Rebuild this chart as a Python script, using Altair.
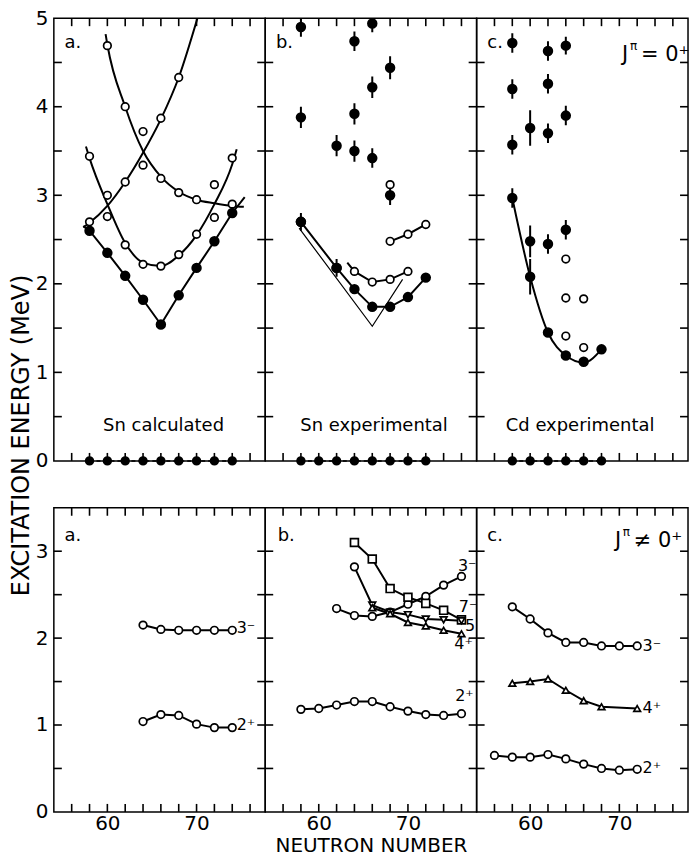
import altair as alt
import pandas as pd

FONT = "DejaVu Sans"
XDOM = [54, 77.7]
W = 212
H_TOP = 444
H_BOT = 305
TICK_PX = 8

# ---------------- data: top row (J^pi = 0+) ----------------
A_FILLED_N = [58, 60, 62, 64, 66, 68, 70, 72, 74]
A_FILLED_E = [2.60, 2.35, 2.09, 1.82, 1.54, 1.87, 2.18, 2.48, 2.80]
A_VLINE_N = [57.3, 58, 60, 62, 64, 66, 68, 70, 72, 74, 75.4]
A_VLINE_E = [2.65, 2.60, 2.35, 2.09, 1.82, 1.54, 1.87, 2.18, 2.48, 2.80, 2.98]
A_OPEN_N = [58, 58, 60, 60, 60, 62, 62, 62, 64, 64, 64, 66, 66, 66, 68, 68, 68, 70, 70, 72, 72, 74, 74]
A_OPEN_E = [3.44, 2.70, 4.69, 3.00, 2.76, 4.00, 3.15, 2.44, 3.72, 3.34, 2.22, 3.87, 3.19, 2.20,
            4.33, 3.03, 2.33, 2.95, 2.56, 3.12, 2.75, 3.42, 2.90]
A_CURVE1_N = [57.6, 58, 60, 62, 64, 66, 68, 70, 72, 74, 74.5]
A_CURVE1_E = [3.55, 3.42, 2.90, 2.46, 2.24, 2.20, 2.32, 2.55, 2.90, 3.35, 3.52]
A_CURVE2_N = [59.8, 60, 62, 64, 66, 68, 70, 72, 74, 75.3]
A_CURVE2_E = [4.82, 4.70, 4.00, 3.50, 3.21, 3.04, 2.95, 2.91, 2.88, 2.87]
A_CURVE3_N = [57.3, 58, 60, 62, 64, 66, 68, 70.1]
A_CURVE3_E = [2.64, 2.69, 2.88, 3.15, 3.48, 3.86, 4.33, 5.0]
A_ZERO_N = [58, 60, 62, 64, 66, 68, 70, 72, 74]

B_ERR_N = [58, 58, 58, 62, 62, 64, 64, 64, 66, 66, 66, 68, 68]
B_ERR_E = [4.90, 3.88, 2.70, 3.56, 2.18, 4.74, 3.92, 3.50, 4.94, 4.22, 3.42, 4.44, 3.00]
B_ERR_D = [0.11, 0.12, 0.10, 0.12, 0.10, 0.11, 0.12, 0.12, 0.10, 0.12, 0.11, 0.13, 0.11]
B_FLINE_N = [58, 62, 64, 66, 68, 70, 72]
B_FLINE_E = [2.70, 2.18, 1.94, 1.74, 1.74, 1.85, 2.07]
B_THIN_N = [57.8, 66, 69.4]
B_THIN_E = [2.63, 1.52, 2.05]
B_OLINE1_N = [63.2, 64, 66, 68, 70]
B_OLINE1_E = [2.24, 2.14, 2.02, 2.05, 2.14]
B_OLINE2_N = [68, 70, 72]
B_OLINE2_E = [2.48, 2.56, 2.67]
B_OPEN_N = [64, 66, 68, 70, 68, 70, 72, 68]
B_OPEN_E = [2.14, 2.02, 2.05, 2.14, 2.48, 2.56, 2.67, 3.12]
B_ZERO_N = [58, 60, 62, 64, 66, 68, 70, 72]

C_ERR_N = [58, 58, 58, 58, 60, 60, 60, 62, 62, 62, 62, 64, 64, 64]
C_ERR_E = [4.72, 4.20, 3.57, 2.97, 3.76, 2.48, 2.08, 4.63, 4.26, 3.70, 2.45, 4.69, 3.90, 2.61]
C_ERR_D = [0.11, 0.11, 0.11, 0.11, 0.20, 0.18, 0.20, 0.11, 0.11, 0.11, 0.11, 0.10, 0.11, 0.11]
C_FILLED_N = [62, 64, 66, 68]
C_FILLED_E = [1.45, 1.19, 1.12, 1.26]
C_CURVE_N = [58, 60, 62, 64, 66, 68]
C_CURVE_E = [2.97, 2.08, 1.45, 1.19, 1.11, 1.26]
C_OPEN_N = [64, 64, 64, 66, 66]
C_OPEN_E = [2.28, 1.84, 1.41, 1.83, 1.28]
C_ZERO_N = [58, 60, 62, 64, 66, 68]

# ---------------- data: bottom row (J^pi != 0+) ----------------
QA_3M_N = [64, 66, 68, 70, 72, 74]
QA_3M_E = [2.15, 2.10, 2.09, 2.09, 2.09, 2.09]
QA_2P_N = [64, 66, 68, 70, 72, 74]
QA_2P_E = [1.04, 1.12, 1.11, 1.01, 0.97, 0.97]

QB_2P_N = [58, 60, 62, 64, 66, 68, 70, 72, 74, 76]
QB_2P_E = [1.18, 1.19, 1.23, 1.27, 1.27, 1.21, 1.16, 1.12, 1.11, 1.13]
QB_3M_N = [62, 64, 66, 68, 70, 72, 74, 76]
QB_3M_E = [2.34, 2.26, 2.25, 2.30, 2.39, 2.48, 2.61, 2.71]
QB_7M_N = [64, 66, 68, 70, 72, 74, 76]
QB_7M_E = [3.10, 2.91, 2.57, 2.47, 2.40, 2.32, 2.21]
QB_5M_N = [64, 66, 68, 70, 72, 74, 76]
QB_5M_E = [2.82, 2.38, 2.30, 2.27, 2.22, 2.21, 2.20]
QB_4P_N = [66, 68, 70, 72, 74, 76]
QB_4P_E = [2.35, 2.28, 2.18, 2.14, 2.09, 2.05]

QC_3M_N = [58, 60, 62, 64, 66, 68, 70, 72]
QC_3M_E = [2.36, 2.22, 2.06, 1.95, 1.95, 1.91, 1.91, 1.91]
QC_4P_N = [58, 60, 62, 64, 66, 68, 72]
QC_4P_E = [1.48, 1.50, 1.53, 1.40, 1.28, 1.21, 1.19]
QC_2P_N = [56, 58, 60, 62, 64, 66, 68, 70, 72]
QC_2P_E = [0.65, 0.63, 0.63, 0.66, 0.61, 0.55, 0.50, 0.48, 0.49]

X_TICKS = [56, 58, 60, 62, 64, 66, 68, 70, 72, 74, 76]
X_LABELS = [60, 70]


def df(n, e):
    return pd.DataFrame({"N": n, "E": e})


def make_panel(ymax, layers_fn, xaxis, yaxis):
    H = H_TOP if ymax == 5 else H_BOT
    xs = alt.Scale(domain=XDOM, nice=False, zero=False)
    ys = alt.Scale(domain=[0, ymax], nice=False, zero=False)

    def X(field="N"):
        return alt.X(f"{field}:Q", scale=xs, axis=xaxis)

    def Y(field="E"):
        return alt.Y(f"{field}:Q", scale=ys, axis=yaxis)

    # inward frame ticks drawn as stroke symbols, centred half a tick inside the frame
    hy = 0.5 * TICK_PX * ymax / H
    hx = 0.5 * TICK_PX * (XDOM[1] - XDOM[0]) / W
    yt = [i / 2 for i in range(1, int(ymax * 2))]
    d_v = pd.DataFrame({"N": X_TICKS * 2,
                        "E": [hy] * len(X_TICKS) + [ymax - hy] * len(X_TICKS)})
    d_h = pd.DataFrame({"N": [XDOM[0] + hx] * len(yt) + [XDOM[1] - hx] * len(yt),
                        "E": yt * 2})
    tv = alt.Chart(d_v).mark_point(shape="stroke", angle=90, size=TICK_PX ** 2, stroke="black",
                                   strokeWidth=1.6, opacity=1, filled=False).encode(x=X(), y=Y())
    th = alt.Chart(d_h).mark_point(shape="stroke", size=TICK_PX ** 2, stroke="black",
                                   strokeWidth=1.6, opacity=1, filled=False).encode(x=X(), y=Y())
    layers = layers_fn(X, Y) + [tv, th]
    return alt.layer(*layers).properties(width=W, height=H)


def line(n, e, X, Y, interp="linear", sw=2, clip=True, dash=None):
    kw = dict(color="black", strokeWidth=sw, interpolate=interp, clip=clip)
    if dash:
        kw["strokeDash"] = dash
    return alt.Chart(df(n, e)).mark_line(**kw).encode(x=X(), y=Y())


def opn(n, e, X, Y, shape="circle", size=58):
    return alt.Chart(df(n, e)).mark_point(shape=shape, filled=True, fill="white", stroke="black",
                                          strokeWidth=1.7, size=size, opacity=1).encode(x=X(), y=Y())


def fil(n, e, X, Y, size=72, clip=True):
    return alt.Chart(df(n, e)).mark_point(shape="circle", filled=True, fill="black", stroke="black",
                                          size=size, opacity=1, clip=clip).encode(x=X(), y=Y())


def errs(n, e, d, X, Y):
    d_ = pd.DataFrame({"N": n, "E": e, "lo": [a - b for a, b in zip(e, d)],
                       "hi": [a + b for a, b in zip(e, d)]})
    bars = alt.Chart(d_).mark_rule(color="black", strokeWidth=2, clip=True).encode(
        x=X(), y=Y("lo"), y2="hi")
    return [bars, fil(n, e, X, Y)]


def txt(n, e, s, X, Y, size=18, align="left", dx=0, dy=0):
    d_ = pd.DataFrame({"N": [n], "E": [e], "t": [s]})
    return alt.Chart(d_).mark_text(align=align, baseline="middle", font=FONT, fontSize=size,
                                   color="black", dx=dx, dy=dy).encode(x=X(), y=Y(), text="t:N")


def zero_row(n, X, Y):
    zeros = [0] * len(n)
    return [line(n, zeros, X, Y, sw=1.5, clip=False, dash=[4, 3]),
            fil(n, zeros, X, Y, size=55, clip=False)]


def jpi(X, Y, n, e, rel):
    return [txt(n, e, "J", X, Y, size=21),
            txt(n, e, "\u03c0", X, Y, size=12, dx=8, dy=-9),
            txt(n, e, rel + " 0\u207a", X, Y, size=21, dx=19)]


AX_KW = dict(ticks=False, domain=False, grid=False, labelFont=FONT, labelFontSize=20,
             labelColor="black")
y_top_title = alt.Axis(values=[0, 1, 2, 3, 4, 5], labelPadding=6, title="EXCITATION ENERGY (MeV)",
                       titleFont=FONT, titleFontSize=24, titleFontWeight="normal", titleColor="black",
                       titleY=418, titlePadding=2, **AX_KW)
y_bot = alt.Axis(values=[0, 1, 2, 3], labelPadding=6, title=None, **AX_KW)
x_bot = alt.Axis(values=X_LABELS, labelPadding=2, title=None, **AX_KW)
x_bot_title = alt.Axis(values=X_LABELS, labelPadding=2, title="NEUTRON NUMBER", titleFont=FONT,
                       titleFontSize=20, titleFontWeight="normal", titleColor="black",
                       titlePadding=2, **AX_KW)


def pa_layers(X, Y):
    L = [line(A_VLINE_N, A_VLINE_E, X, Y),
         line(A_CURVE1_N, A_CURVE1_E, X, Y, interp="monotone"),
         line(A_CURVE2_N, A_CURVE2_E, X, Y, interp="monotone"),
         line(A_CURVE3_N, A_CURVE3_E, X, Y, interp="monotone"),
         fil(A_FILLED_N, A_FILLED_E, X, Y),
         opn(A_OPEN_N, A_OPEN_E, X, Y)]
    L += zero_row(A_ZERO_N, X, Y)
    L += [txt(55.2, 4.72, "a.", X, Y), txt(66.3, 0.39, "Sn calculated", X, Y, align="center")]
    return L


def pb_layers(X, Y):
    L = [line(B_THIN_N, B_THIN_E, X, Y, sw=1.2),
         line(B_FLINE_N, B_FLINE_E, X, Y),
         line(B_OLINE1_N, B_OLINE1_E, X, Y),
         line(B_OLINE2_N, B_OLINE2_E, X, Y),
         fil(B_FLINE_N, B_FLINE_E, X, Y)]
    L += errs(B_ERR_N, B_ERR_E, B_ERR_D, X, Y)
    L += [opn(B_OPEN_N, B_OPEN_E, X, Y)]
    L += zero_row(B_ZERO_N, X, Y)
    L += [txt(55.2, 4.72, "b.", X, Y), txt(66.2, 0.39, "Sn experimental", X, Y, align="center")]
    return L


def pc_layers(X, Y):
    L = [line(C_CURVE_N, C_CURVE_E, X, Y, interp="monotone")]
    L += errs(C_ERR_N, C_ERR_E, C_ERR_D, X, Y)
    L += [fil(C_FILLED_N, C_FILLED_E, X, Y), opn(C_OPEN_N, C_OPEN_E, X, Y)]
    L += zero_row(C_ZERO_N, X, Y)
    L += [txt(55.2, 4.72, "c.", X, Y), txt(65.6, 0.39, "Cd experimental", X, Y, align="center")]
    L += jpi(X, Y, 70.3, 4.58, "=")
    return L


def qa_layers(X, Y):
    return [line(QA_3M_N, QA_3M_E, X, Y), line(QA_2P_N, QA_2P_E, X, Y),
            opn(QA_3M_N, QA_3M_E, X, Y), opn(QA_2P_N, QA_2P_E, X, Y),
            txt(55.2, 3.17, "a.", X, Y),
            txt(74.5, 2.12, "3\u207b", X, Y, size=16), txt(74.5, 1.0, "2\u207a", X, Y, size=16)]


def qb_layers(X, Y):
    return [line(QB_2P_N, QB_2P_E, X, Y), line(QB_3M_N, QB_3M_E, X, Y),
            line(QB_7M_N, QB_7M_E, X, Y), line(QB_5M_N, QB_5M_E, X, Y),
            line(QB_4P_N, QB_4P_E, X, Y),
            opn(QB_2P_N, QB_2P_E, X, Y), opn(QB_3M_N, QB_3M_E, X, Y),
            opn(QB_7M_N, QB_7M_E, X, Y, shape="square", size=62),
            opn(QB_5M_N[:1], QB_5M_E[:1], X, Y),
            opn(QB_5M_N[1:], QB_5M_E[1:], X, Y, shape="triangle-down", size=45),
            opn(QB_4P_N, QB_4P_E, X, Y, shape="triangle-up", size=45),
            txt(55.4, 3.17, "b.", X, Y),
            txt(75.6, 2.83, "3\u207b", X, Y, size=16), txt(75.7, 2.36, "7\u207b", X, Y, size=16),
            txt(76.4, 2.14, "5", X, Y, size=16), txt(75.2, 1.93, "4\u207a", X, Y, size=16),
            txt(75.3, 1.33, "2\u207a", X, Y, size=16)]


def qc_layers(X, Y):
    L = [line(QC_3M_N, QC_3M_E, X, Y), line(QC_4P_N, QC_4P_E, X, Y), line(QC_2P_N, QC_2P_E, X, Y),
         opn(QC_3M_N, QC_3M_E, X, Y), opn(QC_4P_N, QC_4P_E, X, Y, shape="triangle-up", size=45),
         opn(QC_2P_N, QC_2P_E, X, Y),
         txt(55.2, 3.17, "c.", X, Y),
         txt(72.6, 1.91, "3\u207b", X, Y, size=16), txt(72.6, 1.20, "4\u207a", X, Y, size=16),
         txt(72.6, 0.50, "2\u207a", X, Y, size=16)]
    L += jpi(X, Y, 69.5, 3.12, "\u2260")
    return L


pa = make_panel(5, pa_layers, None, y_top_title)
pb = make_panel(5, pb_layers, None, None)
pc = make_panel(5, pc_layers, None, None)
qa = make_panel(3.5, qa_layers, x_bot, y_bot)
qb = make_panel(3.5, qb_layers, x_bot_title, None)
qc = make_panel(3.5, qc_layers, x_bot, None)

chart = alt.concat(pa, pb, pc, qa, qb, qc, columns=3).properties(
    spacing={"row": 47, "column": 0},
    bounds="flush",
    padding={"left": 8, "top": 6, "right": 2, "bottom": 1},
    background="white",
).configure_view(stroke="black", strokeWidth=1.5)

chart.save("out.html", embed_options={"renderer": "svg", "actions": False})
